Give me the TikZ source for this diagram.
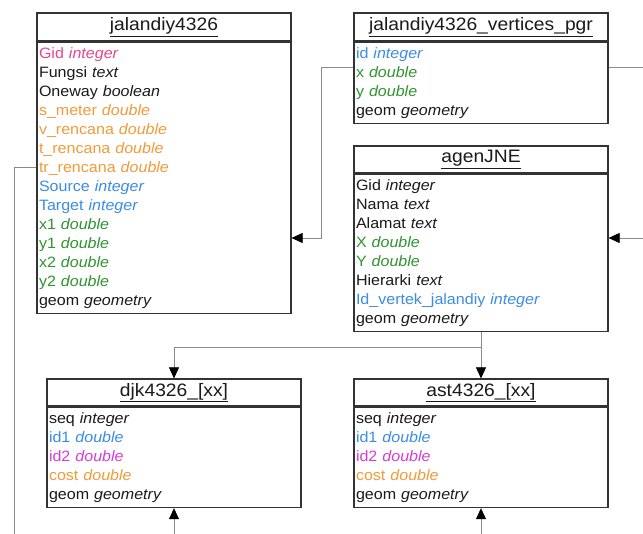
\documentclass[tikz,border=0pt]{standalone}
\usepackage{fontspec}
\setmainfont[FakeStretch=1.07]{Liberation Sans}
\usepackage{xcolor}
\usetikzlibrary{arrows.meta}

\definecolor{gidpink}{HTML}{E8468C}
\definecolor{fldorange}{HTML}{F29B38}
\definecolor{fldblue}{HTML}{3B8CE6}
\definecolor{fldgreen}{HTML}{2F952F}
\definecolor{fldmagenta}{HTML}{D83CD8}
\definecolor{fldblack}{HTML}{1A1A1A}
\definecolor{boxedge}{HTML}{333333}
\definecolor{connedge}{HTML}{8A8A8A}

% one attribute line: name upright, type italic
\newcommand{\fieldrow}[3]{\strut\textcolor{#1}{#2 \textit{#3}}}

\begin{document}
\begin{tikzpicture}[x=1pt, y=1pt]
        % ================= styles =================
        \tikzset{
            % table header with underlined name
            tbl_title/.style={rectangle, draw=boxedge, line width=1.2pt, fill=white, minimum width=254pt, inner sep=0pt, font=\fontsize{18}{20}\selectfont, text=fldblack},
            % table body with attribute lines
            tbl_body/.style={rectangle, draw=boxedge, line width=1.2pt, fill=white, anchor=north, text width=250pt, inner xsep=2pt, inner ysep=2.7pt, align=left, font=\fontsize{15}{19}\selectfont},
            % thin grey connectors
            conn_line/.style={line width=0.7pt, connedge},
            conn_arrow/.style={conn_line, -{Triangle[width=10pt, length=11pt, color=black]}}
        }

        \useasboundingbox (0,0) rectangle (643,534);

        % ================= tables =================
        % jalandiy4326
        \node[tbl_title, minimum height=28pt] (t_jalan) at (164,507) {\underline{jalandiy4326}};
        \node[tbl_body] (b_jalan) at (t_jalan.south) {%
            \fieldrow{gidpink}{Gid}{integer}\\
            \fieldrow{fldblack}{Fungsi}{text}\\
            \fieldrow{fldblack}{Oneway}{boolean}\\
            \fieldrow{fldorange}{s\_meter}{double}\\
            \fieldrow{fldorange}{v\_rencana}{double}\\
            \fieldrow{fldorange}{t\_rencana}{double}\\
            \fieldrow{fldorange}{tr\_rencana}{double}\\
            \fieldrow{fldblue}{Source}{integer}\\
            \fieldrow{fldblue}{Target}{integer}\\
            \fieldrow{fldgreen}{x1}{double}\\
            \fieldrow{fldgreen}{y1}{double}\\
            \fieldrow{fldgreen}{x2}{double}\\
            \fieldrow{fldgreen}{y2}{double}\\
            \fieldrow{fldblack}{geom}{geometry}};

        % jalandiy4326_vertices_pgr
        \node[tbl_title, minimum height=28pt] (t_vert) at (481,507) {\underline{jalandiy4326\_vertices\_pgr}};
        \node[tbl_body] (b_vert) at (t_vert.south) {%
            \fieldrow{fldblue}{id}{integer}\\
            \fieldrow{fldgreen}{x}{double}\\
            \fieldrow{fldgreen}{y}{double}\\
            \fieldrow{fldblack}{geom}{geometry}};

        % agenJNE
        \node[tbl_title, minimum height=27pt] (t_agen) at (481,374.5) {\underline{agenJNE}};
        \node[tbl_body] (b_agen) at (t_agen.south) {%
            \fieldrow{fldblack}{Gid}{integer}\\
            \fieldrow{fldblack}{Nama}{text}\\
            \fieldrow{fldblack}{Alamat}{text}\\
            \fieldrow{fldgreen}{X}{double}\\
            \fieldrow{fldgreen}{Y}{double}\\
            \fieldrow{fldblack}{Hierarki}{text}\\
            \fieldrow{fldblue}{Id\_vertek\_jalandiy}{integer}\\
            \fieldrow{fldblack}{geom}{geometry}};

        % djk4326_[xx]
        \node[tbl_title, minimum height=27pt] (t_djk) at (174,141.5) {\underline{djk4326\_[xx]}};
        \node[tbl_body] (b_djk) at (t_djk.south) {%
            \fieldrow{fldblack}{seq}{integer}\\
            \fieldrow{fldblue}{id1}{double}\\
            \fieldrow{fldmagenta}{id2}{double}\\
            \fieldrow{fldorange}{cost}{double}\\
            \fieldrow{fldblack}{geom}{geometry}};

        % ast4326_[xx]
        \node[tbl_title, minimum height=27pt] (t_ast) at (481,141.5) {\underline{ast4326\_[xx]}};
        \node[tbl_body] (b_ast) at (t_ast.south) {%
            \fieldrow{fldblack}{seq}{integer}\\
            \fieldrow{fldblue}{id1}{double}\\
            \fieldrow{fldmagenta}{id2}{double}\\
            \fieldrow{fldorange}{cost}{double}\\
            \fieldrow{fldblack}{geom}{geometry}};

        % ================= connector end points =================
        \coordinate (vert_l) at (b_vert.west |- 0,467);
        \coordinate (vert_r) at (b_vert.east |- 0,467);
        \coordinate (vert_out) at (643,467);
        \coordinate (jalan_in) at (b_jalan.east |- 0,296);
        \coordinate (agen_in) at (b_agen.east |- 0,296);
        \coordinate (agen_src) at (643,296);
        \coordinate (split) at (b_agen.south |- 0,187);
        \coordinate (djk_src) at (b_djk.south |- 0,0);
        \coordinate (ast_src) at (b_ast.south |- 0,0);
        \coordinate (jalan_l) at (b_jalan.west |- 0,367);
        \coordinate (jalan_down) at (14,0);

        % ================= connectors =================
        \draw[conn_arrow] (vert_l) -- ++(-32,0) |- (jalan_in);
        \draw[conn_line] (vert_r) -- (vert_out);
        \draw[conn_arrow] (agen_src) -- (agen_in);
        \draw[conn_arrow] (b_agen.south) -- (t_ast.north);
        \draw[conn_arrow] (split) -| (t_djk.north);
        \draw[conn_arrow] (djk_src) -- (b_djk.south);
        \draw[conn_arrow] (ast_src) -- (b_ast.south);
        \draw[conn_line] (jalan_l) -| (jalan_down);

    \end{tikzpicture}
\end{document}
